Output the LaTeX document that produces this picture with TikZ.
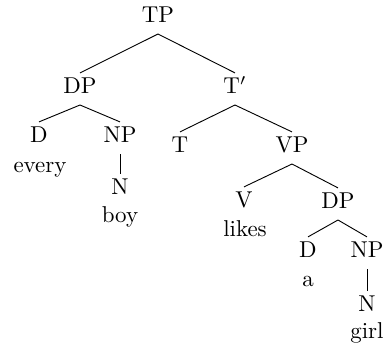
\documentclass[tikz,border=0pt]{standalone}
\begin{document}
\begin{tikzpicture}[x=0.4359pt,y=-0.4359pt,
  lab/.style={anchor=base,inner sep=0pt,outer sep=0pt},
  edge/.style={line width=0.4pt}]
\useasboundingbox (0,0) rectangle (390,354);
\node[lab] (TP) at (158,23) {TP};
\node[lab] (DPa) at (80,94) {DP};
\node[lab] (Tb) at (235,94) {T$'$};
\node[lab] (Da) at (39,143) {D};
\node[lab] (every) at (40,173) {every};
\node[lab] (NPa) at (120,143) {NP};
\node[lab] (Na) at (120,195) {N};
\node[lab] (boy) at (120,223) {boy};
\node[lab] (T) at (180,153) {T};
\node[lab] (VP) at (292,153) {VP};
\node[lab] (V) at (244,208) {V};
\node[lab] (likes) at (245,237) {likes};
\node[lab] (DPb) at (338,209) {DP};
\node[lab] (Db) at (308,258) {D};
\node[lab] (a) at (308,287) {a};
\node[lab] (NPb) at (367,258) {NP};
\node[lab] (Nb) at (367,312) {N};
\node[lab] (girl) at (367,339) {girl};
\foreach \p/\c in {TP/DPa,TP/Tb,DPa/Da,DPa/NPa,NPa/Na,Tb/T,Tb/VP,VP/V,VP/DPb,DPb/Db,DPb/NPb,NPb/Nb}
  \draw[edge] ([yshift=-4.8pt]\p.base) -- ([yshift=9.2pt]\c.base);
\end{tikzpicture}
\end{document}
